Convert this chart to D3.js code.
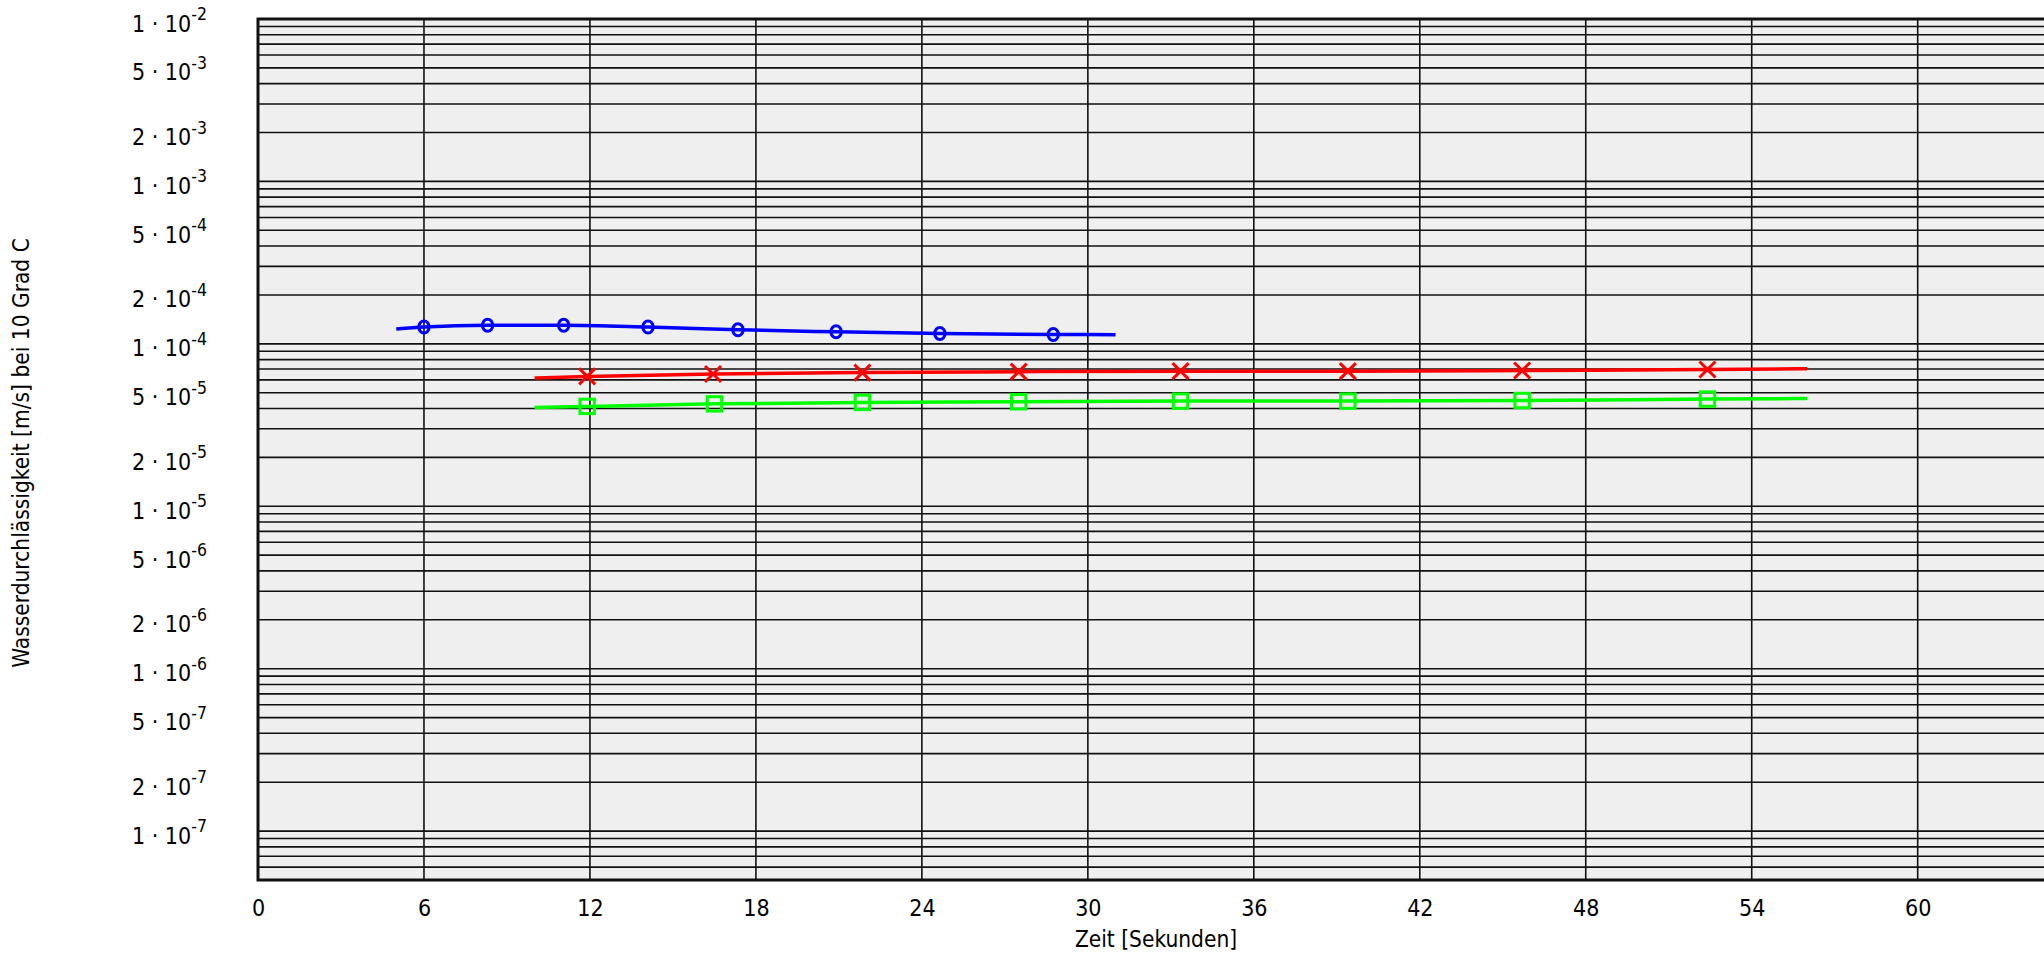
<!DOCTYPE html>
<html>
<head>
<meta charset="utf-8">
<script src="https://cdn.jsdelivr.net/npm/d3@7"></script>
<style>
    body { margin: 0; background: #fff; overflow: hidden; }
    svg { display: block; font-family: "DejaVu Sans Condensed", "DejaVu Sans", sans-serif; font-stretch: condensed; }
</style>
</head>
<body>
<svg id="chart" width="2044" height="954"></svg>
<script>
// tick labels
var timeTicks = [0, 6, 12, 18, 24, 30, 36, 42, 48, 54, 60];
var kTicks = [1e-7, 2e-7, 5e-7, 1e-6, 2e-6, 5e-6, 1e-5, 2e-5, 5e-5, 1e-4, 2e-4, 5e-4, 1e-3, 2e-3, 5e-3, 1e-2];

// series 1 (blue, circles)
var blueTime = [6.0, 8.3, 11.05, 14.1, 17.35, 20.9, 24.65, 28.75];
var blueK = [1.268e-4, 1.30e-4, 1.30e-4, 1.268e-4, 1.22e-4, 1.186e-4, 1.158e-4, 1.142e-4];
var blueFitTime = [5.0, 31.0];
var blueFitK = [1.235e-4, 1.138e-4];

// series 2 (red, crosses)
var redTime = [11.9, 16.45, 21.85, 27.5, 33.35, 39.4, 45.7, 52.4];
var redK = [6.3e-5, 6.52e-5, 6.65e-5, 6.74e-5, 6.79e-5, 6.79e-5, 6.85e-5, 6.95e-5];
var redFitTime = [10.0, 56.0];
var redFitK = [6.16e-5, 7.02e-5];

// series 3 (green, squares)
var greenTime = [11.9, 16.5, 21.85, 27.5, 33.35, 39.4, 45.7, 52.4];
var greenK = [4.12e-5, 4.27e-5, 4.36e-5, 4.40e-5, 4.44e-5, 4.44e-5, 4.48e-5, 4.57e-5];
var greenFitTime = [10.0, 56.0];
var greenFitK = [4.06e-5, 4.61e-5];

var svg = d3.select('#chart');

var margin = { top: 19, left: 258, bottom: 74, right: 0 };
var height = 954;
var plotRight = 2056;   // frame runs past the window edge

var x = d3.scaleLinear().domain([0, 65]).range([margin.left, plotRight]);
var y = d3.scaleLog().domain([5e-8, 1e-2]).range([height - margin.bottom, margin.top]);

svg.append("defs").append("clipPath").attr("id", "plotclip")
    .append("rect")
    .attr("x", x(0)).attr("y", y(1e-2))
    .attr("width", x(65) - x(0)).attr("height", y(5e-8) - y(1e-2));

// plot background
svg.append("rect")
    .attr("x", x(0)).attr("y", y(1e-2))
    .attr("width", x(65) - x(0)).attr("height", y(5e-8) - y(1e-2))
    .attr("fill", "#efefef");

// horizontal grid: every 1..9 x 10^n
var gridK = [];
for (var e = -8; e <= -3; e++) {
    for (var m = 1; m <= 9; m++) {
        var v = m * Math.pow(10, e);
        if (v > 5.01e-8 && v < 0.99e-2) gridK.push(v);
    }
}
var grid = svg.append("g").attr("clip-path", "url(#plotclip)");
grid.selectAll("line.h")
    .data(gridK)
    .enter().append("line")
    .attr("class", "h")
    .attr("x1", x(0)).attr("x2", x(65))
    .attr("y1", function (d) { return y(d); })
    .attr("y2", function (d) { return y(d); })
    .attr("stroke", "#111")
    .attr("stroke-width", 1.6);

grid.selectAll("line.v")
    .data(timeTicks.slice(1))
    .enter().append("line")
    .attr("class", "v")
    .attr("y1", y(1e-2)).attr("y2", y(5e-8))
    .attr("x1", function (d) { return x(d); })
    .attr("x2", function (d) { return x(d); })
    .attr("stroke", "#111")
    .attr("stroke-width", 1.6);

// x axis labels
var xAxis = d3.axisBottom(x).tickValues(timeTicks).tickSize(0).tickPadding(20);
var gx = svg.append("g")
    .attr("transform", "translate(0," + y(5e-8) + ")")
    .call(xAxis);
gx.select(".domain").remove();
gx.attr("font-family", null);
gx.selectAll("text")
    .attr("font-size", 23)
    .attr("fill", "#000");

// y axis labels: "m · 10^e"
var gy = svg.append("g");
gy.selectAll("text")
    .data(kTicks)
    .enter().append("text")
    .attr("x", 132)
    .attr("y", function (d) { return y(d) + 12.5; })
    .attr("font-size", 23)
    .attr("fill", "#000")
    .each(function (d) {
        var ex = Math.floor(Math.log10(d) + 1e-9);
        var mant = Math.round(d / Math.pow(10, ex));
        var t = d3.select(this);
        t.append("tspan").text(mant + " \u00b7 10");
        t.append("tspan")
            .attr("dy", -11.5)
            .attr("font-size", 17.5)
            .text(ex);
    });

// data lines
var line = d3.line()
    .x(function (d) { return x(d[0]); })
    .y(function (d) { return y(d[1]); })
    .curve(d3.curveMonotoneX);

function fitPoints(fitT, fitK, t, k) {
    var pts = [[fitT[0], fitK[0]]];
    t.forEach(function (tt, i) { pts.push([tt, k[i]]); });
    pts.push([fitT[1], fitK[1]]);
    return pts;
}

var data = svg.append("g").attr("clip-path", "url(#plotclip)");

var series = [
    { t: blueTime, k: blueK, ft: blueFitTime, fk: blueFitK, color: "#0000ff", mark: "circle" },
    { t: redTime, k: redK, ft: redFitTime, fk: redFitK, color: "#ff0000", mark: "cross" },
    { t: greenTime, k: greenK, ft: greenFitTime, fk: greenFitK, color: "#00ff00", mark: "square" }
];

series.forEach(function (s) {
    data.append("path")
        .datum(fitPoints(s.ft, s.fk, s.t, s.k))
        .attr("d", line)
        .attr("fill", "none")
        .attr("stroke", s.color)
        .attr("stroke-width", 3.5);

    var pts = s.t.map(function (tt, i) { return [tt, s.k[i]]; });
    var g = data.append("g")
        .attr("fill", "none")
        .attr("stroke", s.color)
        .attr("stroke-width", 3);

    if (s.mark == "circle") {
        g.selectAll("ellipse").data(pts).enter().append("ellipse")
            .attr("cx", function (d) { return x(d[0]); })
            .attr("cy", function (d) { return y(d[1]); })
            .attr("rx", 5.2)
            .attr("ry", 6);
    } else if (s.mark == "cross") {
        g.selectAll("path").data(pts).enter().append("path")
            .attr("d", function (d) {
                var cx = x(d[0]), cy = y(d[1]), r = 8;
                return "M" + (cx - r) + "," + (cy - r) + "L" + (cx + r) + "," + (cy + r) +
                       "M" + (cx - r) + "," + (cy + r) + "L" + (cx + r) + "," + (cy - r);
            });
    } else {
        g.selectAll("rect").data(pts).enter().append("rect")
            .attr("x", function (d) { return x(d[0]) - 7.2; })
            .attr("y", function (d) { return y(d[1]) - 7.2; })
            .attr("width", 14.4)
            .attr("height", 14.4);
    }
});

// frame
svg.append("rect")
    .attr("x", x(0)).attr("y", y(1e-2))
    .attr("width", x(65) - x(0)).attr("height", y(5e-8) - y(1e-2))
    .attr("fill", "none")
    .attr("stroke", "#111")
    .attr("stroke-width", 3);

// axis titles
svg.append("text")
    .attr("transform", "translate(1156,947)")
    .style("text-anchor", "middle")
    .attr("font-size", 22.5)
    .text("Zeit [Sekunden]");

svg.append("text")
    .attr("transform", "translate(29,453) rotate(-90)")
    .style("text-anchor", "middle")
    .attr("font-size", 22.5)
    .text("Wasserdurchlässigkeit [m/s] bei 10 Grad C");
</script>
</body>
</html>
